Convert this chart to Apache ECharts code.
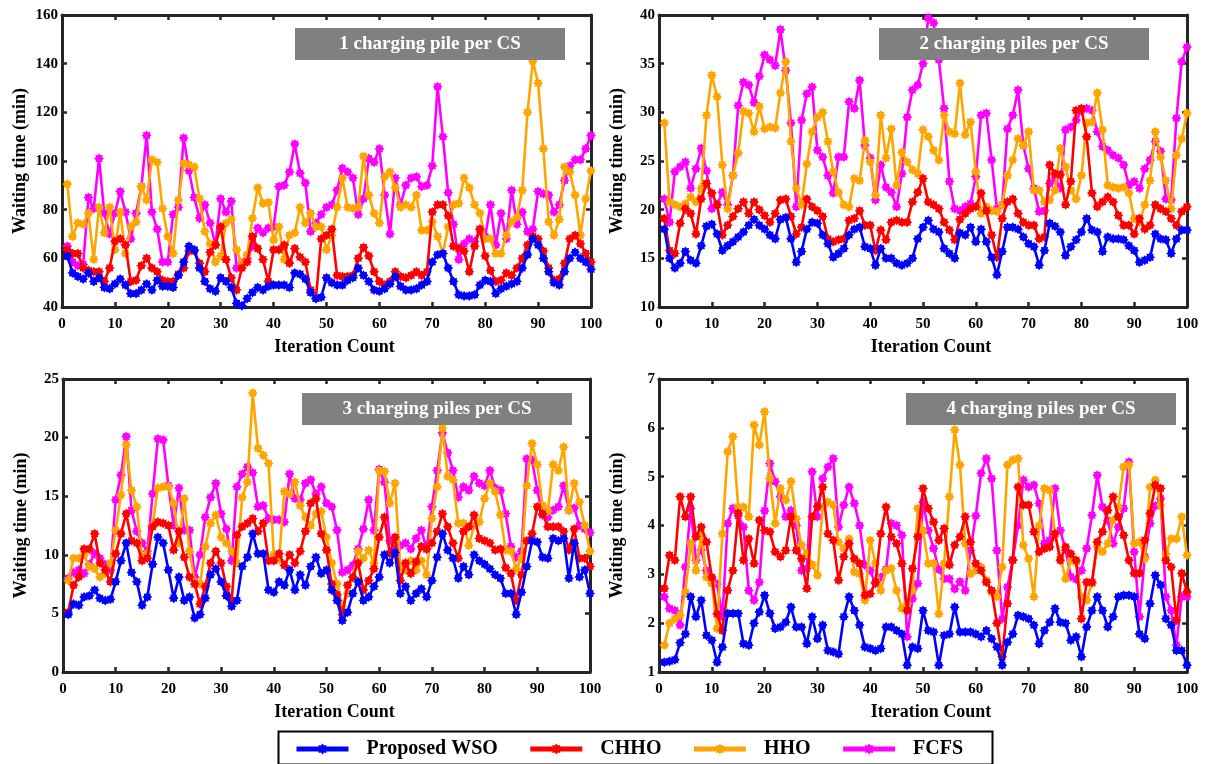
<!DOCTYPE html>
<html>
<head>
<meta charset="utf-8">
<script src="https://cdn.jsdelivr.net/npm/echarts@6/dist/echarts.min.js"></script>
<style>
html,body{margin:0;padding:0;background:#fff;}
#chart{width:1223px;height:764px;}
</style>
</head>
<body>
<div id="chart"></div>
<script>
// ---------------- DATA ----------------
const seriesNames = ['Proposed WSO', 'CHHO', 'HHO', 'FCFS'];
const panelTitles = ['1 charging pile per CS', '2 charging piles per CS', '3 charging piles per CS', '4 charging piles per CS'];
const xAxisTitle = 'Iteration Count';
const yAxisTitle = 'Waiting time (min)';
const iterations = Array.from({length: 100}, (_, i) => i + 1);

// Panel 1: 1 charging pile per CS
const p1_WSO = [61,54,52.5,51.5,54,50.5,52,48,47.5,49.5, 51.5,49,45.5,45.5,47,49.5,47,51,48.5,48.5, 48,53,58.5,65,63.5,56,50.5,47.5,46.5,52, 50.5,48,41.5,40.5,43.5,46,48,47,48.5,49, 49,49,48,54,53.5,51.5,46,43.5,44,52, 50,49,49,51,52,56,53,50.5,47,46.5, 47.5,49.5,52.5,48.5,47,47,47.5,49,50.5,58.5, 61.5,62,56,50.5,45,44.5,44.5,45,49,51, 50.5,45.5,47.5,48.5,49.5,50.5,56,61.5,68,65.5, 60,54.5,50,49,54.5,60,62.5,60,58.5,55.5];
const p1_CHHO = [63.5,62,62,56,55,54.5,54.5,50.5,56,67, 68,65.5,50.5,51,57,60,56,54.5,51,50.5, 50.5,53.5,56,63,63,58,54.5,62.5,65.5,73, 59.5,52,47,56,58.5,69,64,59.5,50.5,63.5, 63.5,65.5,58,64,60.5,58.5,47,43.5,68,69.5, 72,53,52.5,52.5,53,60,64.5,61,54.5,50.5, 49,50.5,54.5,52.5,52,53,54.5,53,54.5,79, 82,82,77.5,65,64,63,54.5,65,72,61, 55,50.5,51,54,53,56,60,65.5,69,68, 63,56,51,51.5,58,68,69.5,66,62,58.5];
const p1_HHO = [90.5,69,74.5,74,78.5,59.5,81,70.5,81,63.5, 79,62,73,75,89.5,84,100.5,99.5,80.5,69, 62,84,99,98.5,97.5,84.5,71,66,58.5,61, 74.5,76,63.5,57.5,61.5,76.5,89,82.5,83,67.5, 73,59.5,69.5,70.5,81,74.5,78.5,73,73,63.5, 69.5,81,93,81,80.5,81,102,86,78.5,74.5, 93.5,95.5,89,81,82,81,86,71.5,71.5,75, 69,62,73,82,82.5,93,89,82,78.5,68, 68,62,62,69.5,75,77,88,120,141,132, 105,75,69.5,76,97.5,95.5,86,69.5,84.5,96];
const p1_FCFS = [65,58.5,57,57.5,85,80.5,101,78.5,70,78.5, 87.5,79,68,78.5,89.5,110.5,79,72,58.5,58.5, 78,81,109.5,96,85,76.5,82,74.5,65.5,84.5, 79,83.5,56,58,60,65,72.5,70.5,72.5,73, 89.5,90,95.5,107,95,91,71,74.5,78,81, 82,88,97,95.5,93,78,84.5,101,99.5,105, 86,70,93,82,90,93,93.5,89.5,90,98, 130.5,110,87,74,59.5,66,68,67,72,69, 82,65.5,78.5,68,88,74,79,71,72,87.5, 86.5,86,79,82,92,98,100.5,100.5,105,110.5];

// Panel 2: 2 charging piles per CS
const p2_WSO = [18,15,14,14.5,15.7,14.8,14.5,16.3,18.3,18.5, 17.5,15.8,16.3,16.7,17.2,17.7,18.4,19,18.4,18, 17.4,17,19,19.2,17,14.6,15.7,18,18.7,18.6, 17.4,16.5,15.1,15.5,16,17.4,18,18.2,16.2,16, 14.3,16,15,15,14.5,14.3,14.5,15,17,18.2, 18.9,18,17.7,16,15.5,15,17.6,17.4,18.2,16.7, 18,16.7,15.1,13.3,15.7,18.2,18.2,18,17.2,16.5, 16.2,14.3,15.8,18.6,18.3,17.7,15.3,16.2,16.9,17.7, 19.1,17.9,17.7,15.7,17.2,17,17,16.9,16.3,15.8, 14.6,14.8,15.1,17.5,17,16.9,15.5,17,17.9,17.9];
const p2_CHHO = [19.1,15.8,15.5,18.6,20.1,19.6,17.5,21.1,22.7,21.7, 20.5,17.4,18.4,19.3,20.1,20.8,19.6,20.8,20,19.4, 18.7,19.6,21,21.1,19.3,17.5,18.2,21.1,20.3,19.9, 19.3,17,16.7,16.9,17,18.9,19.1,19.9,18.4,18.4, 15.8,17.9,16.9,18.7,18.9,18.7,18.7,20.8,21.8,23.2, 20.8,20.5,20.1,18.7,17.9,16.9,19,19.6,20.1,20.3, 21.7,19.9,17.4,15.1,19.1,20.8,21.1,19.6,18.7,18.4, 18.4,17,17.2,24.6,23.7,23.6,20.5,22.9,30.2,30.4, 27.5,21.7,20.3,20.8,21.3,20.8,19.4,18.4,18.4,17.5, 19.1,18,18.4,20.5,20.1,19.8,19.1,18.4,19.8,20.3];
const p2_HHO = [28.9,20.8,20.5,20.3,20.6,21.3,20.8,22.2,29.7,33.8, 31.6,24.6,20.1,23.5,25.8,30.1,29.9,28,30.6,28.3, 28.5,28.4,32,35.2,27,22.2,20.5,24.7,28,29.5, 30,27,23.9,21.8,20.5,20.3,23.2,23,27.1,24.9, 21.5,29.7,25.3,28.3,22.5,25.9,24.9,24.1,23.7,28.2, 27.5,26.1,25.1,29.7,28,27.8,33,27.7,29,23.9, 19.6,20.3,19.9,19.8,20.5,23.5,25.1,27.3,26.6,28, 22,22,20.8,21,22,26.3,24.4,22,21.1,23.5, 28.9,29,32,28.2,22.5,22.3,22.2,22.3,21.7,19.1, 18.7,20.5,23,28,25.4,23,20.1,25.6,27.3,29.9];
const p2_FCFS = [21.1,18.7,23.9,24.4,24.9,22.2,24.2,26.3,24,20.1, 20.5,21.8,20.5,23.5,30.7,33.1,32.8,31,33.7,35.9, 35.4,34.8,38.5,34.3,28.9,20.3,29.2,31.9,32.6,26.1, 25.4,23.5,21.7,25.4,25.4,31.1,30.4,33.3,26.6,25.3, 21,24.6,22.3,21.8,20.3,23.7,29.5,32.3,32.8,35, 39.7,39.2,35.4,30.4,22.9,20.1,19.9,20.3,20.6,23.4, 29.7,29.9,25.1,20.1,20.5,28.3,29.7,32.3,26.6,24.2, 22.2,19.8,19.9,22.7,23.2,22.2,28.2,28.5,29.2,30.2, 30.4,30.2,28,26.5,26.1,25.6,25.3,24.6,22.5,22.9, 22.2,24.2,25.1,27,26,21.1,21,29.4,35.2,36.7];

// Panel 3: 3 charging piles per CS
const p3_WSO = [4.9,5.8,5.7,6.4,6.5,7,6.3,6.1,6.2,7.7, 9.5,11,8.5,7.7,5.7,6.4,9.2,11.5,11,8.7, 6.3,8.1,6.1,6.4,4.6,4.9,6.3,8.3,8.8,7.7, 6.5,5.6,6.1,9,9.8,11.8,10.1,10.1,7,6.8, 7.7,7.4,8.7,7,8.3,7.4,9,9.8,8.4,8.7, 7,6.1,4.4,5.1,6.7,7.7,6.1,6.4,7.3,8.1, 10,9.3,10.2,6.7,7.3,6.1,6.7,7.1,6.4,7.8, 9.8,11.8,10.4,9.7,8,9,8.3,10,9.5,9.2, 8.8,8.3,8,6.7,6.7,4.9,6.8,9,11.2,11.1, 9.8,9.7,11.4,11.2,11.4,8,11,8.1,8.7,6.7];
const p3_CHHO = [5.1,7.4,8.1,10.5,10.5,11.8,9.3,8.7,7.7,10.1, 11.8,13.5,11.2,11,9.5,9.7,12.4,12.8,12.7,12.5, 10.4,12,9.8,8.1,7.5,5.8,7.3,9.3,10.3,9.3, 7.3,6.1,11.7,12.4,12.7,13.1,12,12.7,9.5,9.5, 10.1,9.1,10,9.3,10.3,12,14.4,14.8,11.8,10.4, 7.5,6.6,4.9,7.4,8.1,9.3,7,7.8,8.8,11.5, 13.2,10.1,11.5,7.8,9.3,8.4,9.4,10.7,10.5,11, 12,13.5,12.4,11,9.7,12,12.4,13.4,11.4,11.2, 11,10.4,10.5,8.9,8.4,6.1,8.3,11.2,11.8,14.1, 13.5,12.4,12.4,12.4,12,10.4,12.2,9.7,9.7,9];
const p3_HHO = [7.8,9.7,9.7,10,9,8.8,8.1,8.4,9.3,12.1, 15.1,19.4,15.5,14.1,9.8,10.1,12.5,15.7,15.8,15.8, 14.4,11,14.8,10.3,7.7,7.5,10.7,12.7,13.4,11.5, 11,10.3,9.3,14.9,16.2,23.8,19.1,18.5,17.8,10, 9.6,15.4,15.2,16.2,14.2,13.2,12.5,13.5,13.7,11.5, 9.3,7.5,5.6,6.7,8.1,10.3,9.7,10.4,9.3,17.2, 17.1,14.4,16.1,9,8.7,9.5,8.7,9.5,8.3,13.1, 15.8,20.8,16.7,16.4,12.7,12.7,10.8,12.5,12.8,14.8, 16.1,15.4,13.4,10.4,10.3,8.8,9.7,15.9,19.5,17.7, 14.2,13.7,17.7,17.2,19.2,13.8,16.1,14.5,12.5,10.3];
const p3_FCFS = [8,8.5,8.7,8.4,9.2,10.1,9.7,9.2,8.7,14.7, 16.8,20.1,13.8,12,11,10.3,15.2,19.9,19.8,15.9, 12.5,15.7,12.1,12.1,8.1,10,13.2,14.9,16.1,13.5, 12.2,9.5,15.8,16.9,17.5,17,14.1,14.2,13.1,13, 13,12.8,16.9,14.8,14.7,16.1,16.4,15.2,15.8,14.4, 14.1,12.1,8.5,8.7,9.1,10.5,12.2,14.7,12.1,17.3, 16.2,11.2,10.5,10.8,11,10.5,11.4,12.1,10.5,14.1, 17.2,20.4,18.7,17.2,14.9,15.8,15.5,16.7,16.1,15.9, 17.2,15.7,15.5,13.5,10.7,9.8,10.3,18.2,18.1,15.5, 13.4,13.2,13.8,14.1,15.9,13.8,14,12.5,12.2,11.9];

// Panel 4: 4 charging piles per CS
const p4_WSO = [1.2,1.22,1.25,1.6,1.78,2.54,2.13,2.47,1.75,1.65, 1.2,1.51,2.2,2.2,2.2,1.58,1.55,2,2.23,2.57, 2.2,1.89,1.92,2.02,2.33,1.92,1.92,1.58,2.13,1.68, 1.96,1.44,1.41,1.37,2.13,2.54,2.26,1.96,1.51,1.48, 1.44,1.48,1.92,1.92,1.85,1.78,1.14,1.51,1.48,2.26, 1.85,1.82,1.14,1.75,1.78,2.33,1.82,1.82,1.82,1.78, 1.72,1.85,1.68,1.51,1.14,1.61,1.78,2.16,2.13,2.09, 1.96,1.58,1.85,2.02,2.3,2.02,2,1.65,1.72,1.31, 1.92,2.26,2.54,2.26,1.92,2.13,2.54,2.57,2.57,2.54, 1.78,1.68,2.4,2.98,2.78,2.09,1.96,1.44,1.44,1.14];
const p4_CHHO = [2.71,3.39,3.29,4.59,4.18,4.59,3.77,3.97,3.66,2.94, 2.19,1.85,2.67,3.08,4.25,3.29,3.73,3.22,4.11,3.9, 3.87,3.46,3.36,3.49,4.18,3.49,3.32,2.71,4.18,4.39, 4.79,3.83,3.7,2.88,3.36,3.63,3.32,3.22,2.57,2.6, 2.84,3.83,4.38,3.77,3.63,3.22,2.26,3.12,3.77,4.76, 4.35,4.07,3.7,3.94,3.19,3.6,3.77,4.18,3.66,3.22, 3.08,2.84,2.67,2,1.31,2.4,3.29,4.79,4.42,4.42, 3.87,3.46,3.53,3.56,3.83,3.29,3.56,3.42,3.29,2.09, 2.84,2.84,3.66,3.87,4.31,4.59,4.18,3.8,3.29,3.02, 3.02,3.7,4.25,4.83,4.76,3.29,3.15,2.06,3.02,2.64];
const p4_HHO = [1.55,2,2.09,2.16,2.64,3.63,3.08,3.8,2.94,2.81, 1.89,3.83,5.51,5.82,4.38,4.38,4.18,6.06,5.65,6.33, 4.96,4.04,4.76,4.52,4.9,4.14,3.6,3.42,3.2,2.98, 4.38,4.48,4.42,3.66,3.53,3.73,3.05,3.01,2.47,3.7, 3.22,2.67,3.08,3.12,2.67,2.3,2.4,2.67,4.35,3.9, 3.22,3.22,2.19,3.22,4.59,5.96,5.24,3.63,3.01,3.08, 3.15,2.88,2.64,2.54,3.15,5.24,5.34,5.37,3.6,3.32, 2.54,4,4.76,4.72,3.83,3.36,2.91,3.29,3.25,2.54, 2.47,2.81,3.56,3.46,3.63,4.11,4.38,5.2,5.24,3.63, 3.66,3.32,4.79,4.93,4.42,3.42,3.73,3.73,4.18,3.39];
const p4_FCFS = [2.54,2.3,2.26,1.96,3.15,4.35,3.29,3.5,3.08,2.9, 2.8,2.13,4.04,4.35,4.2,3.97,2.67,2.47,2.84,4.3, 5.27,4.9,4.59,4.18,4.31,4,3.08,3.12,5.1,4.18, 4.96,5.2,5.37,3.97,4.42,4.79,4.45,4,3.19,3.08, 2.81,2.94,3.1,4.04,4,3.8,1.72,2.5,2.81,4.48, 3.9,3.53,3.1,2.91,2.91,2.7,2.85,2.67,3.49,4.2, 5.07,5.37,4.96,3.49,2.09,2.74,3.3,4,4.93,4.79, 4.83,4.45,3.63,3.7,4.76,3.9,3.5,2.95,2.9,3.08, 3.53,4.21,5.03,4.38,4.1,3.63,3.97,4.35,5.3,3.46, 2.13,3.36,4.04,4.4,4.55,2.54,2.26,1.55,2.54,2.54];

// y-axis ranges per panel [min, max, interval]
const yRanges = [[40, 160, 20], [10, 40, 5], [0, 25, 5], [1, 7, 1]];
const xRange = [0, 100, 10];

const panelData = [
  [p1_WSO, p1_CHHO, p1_HHO, p1_FCFS],
  [p2_WSO, p2_CHHO, p2_HHO, p2_FCFS],
  [p3_WSO, p3_CHHO, p3_HHO, p3_FCFS],
  [p4_WSO, p4_CHHO, p4_HHO, p4_FCFS]
];

// ---------------- STYLE / LAYOUT ----------------
const colors = ['#0000FF', '#FF0000', '#FFA500', '#FF00FF'];
const FONT = "'Liberation Serif', 'Times New Roman', serif";
const AXIS_COLOR = '#262626';
const STAR = 'path://M20,10 L16.47,12.68 L17.07,17.07 L12.68,16.47 L10,20 L7.32,16.47 L2.93,17.07 L3.53,12.68 L0,10 L3.53,7.32 L2.93,2.93 L7.32,3.53 L10,0 L12.68,3.53 L17.07,2.93 L16.47,7.32 Z';
const grids = [
  {left: 62, top: 15, width: 529, height: 292},
  {left: 659, top: 15, width: 528, height: 292},
  {left: 63, top: 379, width: 527, height: 293},
  {left: 659, top: 379, width: 528, height: 293}
];
const titleBoxes = [
  {x: 295, y: 28, w: 270, h: 32},
  {x: 879, y: 28, w: 270, h: 32},
  {x: 302, y: 393, w: 270, h: 32},
  {x: 906, y: 393, w: 270, h: 32}
];

const xAxes = [], yAxes = [], series = [], graphics = [];
grids.forEach((g, p) => {
  const tick = {show: true, inside: true, length: 5, lineStyle: {color: AXIS_COLOR, width: 2.5}};
  const line = {show: true, onZero: false, lineStyle: {color: AXIS_COLOR, width: 3}};
  xAxes.push({
    type: 'value', gridIndex: p, position: 'bottom', min: xRange[0], max: xRange[1], interval: xRange[2],
    axisLine: line, axisTick: tick, splitLine: {show: false},
    axisLabel: {color: '#000', fontFamily: FONT, fontWeight: 'bold', fontSize: 15, margin: 10},
    name: xAxisTitle, nameLocation: 'middle', nameGap: 31,
    nameTextStyle: {color: '#000', fontFamily: FONT, fontWeight: 'bold', fontSize: 18, padding: [0, 0, 0, 16]}
  });
  xAxes.push({
    type: 'value', gridIndex: p, position: 'top', min: xRange[0], max: xRange[1], interval: xRange[2],
    axisLine: line, axisTick: tick, splitLine: {show: false}, axisLabel: {show: false}
  });
  const yr = yRanges[p];
  yAxes.push({
    type: 'value', gridIndex: p, position: 'left', min: yr[0], max: yr[1], interval: yr[2],
    axisLine: line, axisTick: tick, splitLine: {show: false},
    axisLabel: {color: '#000', fontFamily: FONT, fontWeight: 'bold', fontSize: 15, margin: 4},
    name: yAxisTitle, nameLocation: 'middle', nameGap: 33, nameRotate: 90,
    nameTextStyle: {color: '#000', fontFamily: FONT, fontWeight: 'bold', fontSize: 18}
  });
  yAxes.push({
    type: 'value', gridIndex: p, position: 'right', min: yr[0], max: yr[1], interval: yr[2],
    axisLine: line, axisTick: tick, splitLine: {show: false}, axisLabel: {show: false}
  });
  // draw order: FCFS, HHO, CHHO, WSO (WSO on top)
  [3, 2, 1, 0].forEach(s => {
    series.push({
      type: 'line', name: seriesNames[s], xAxisIndex: 2 * p, yAxisIndex: 2 * p,
      data: panelData[p][s].map((v, i) => [iterations[i], v]),
      symbol: STAR, symbolSize: 10, showSymbol: true, showAllSymbol: true,
      lineStyle: {width: 2.6, color: colors[s]}, itemStyle: {color: colors[s]},
      z: 2 + (3 - s)
    });
  });
  const b = titleBoxes[p];
  graphics.push({type: 'rect', left: b.x, top: b.y, shape: {width: b.w, height: b.h}, style: {fill: '#808080'}, z: 100});
  graphics.push({type: 'text', x: b.x + b.w / 2, y: b.y + b.h / 2, z: 101,
    style: {text: panelTitles[p], fill: '#fff', font: "bold 19px " + FONT, textAlign: 'center', textVerticalAlign: 'middle'}});
});
// legend frame
graphics.push({type: 'rect', left: 276, top: 729, shape: {width: 714, height: 33}, style: {fill: 'none', stroke: '#000', lineWidth: 2}, z: 100});

const chart = echarts.init(document.getElementById('chart'), null, {renderer: 'canvas'});
chart.setOption({
  animation: false,
  backgroundColor: '#fff',
  grid: grids.map(g => Object.assign({containLabel: false}, g)),
  xAxis: xAxes,
  yAxis: yAxes,
  series: series,
  legend: {
    data: seriesNames, left: 289, top: 734, itemWidth: 52, itemHeight: 14, itemGap: 30,
    lineStyle: {width: 5},
    formatter: name => '{t|' + name + '}',
    textStyle: {
      color: '#000', fontFamily: FONT, fontWeight: 'bold', fontSize: 20,
      rich: {t: {color: '#000', fontFamily: FONT, fontWeight: 'bold', fontSize: 20, padding: [0, 0, 0, 13]}}
    }
  },
  graphic: graphics
});
</script>
</body>
</html>
